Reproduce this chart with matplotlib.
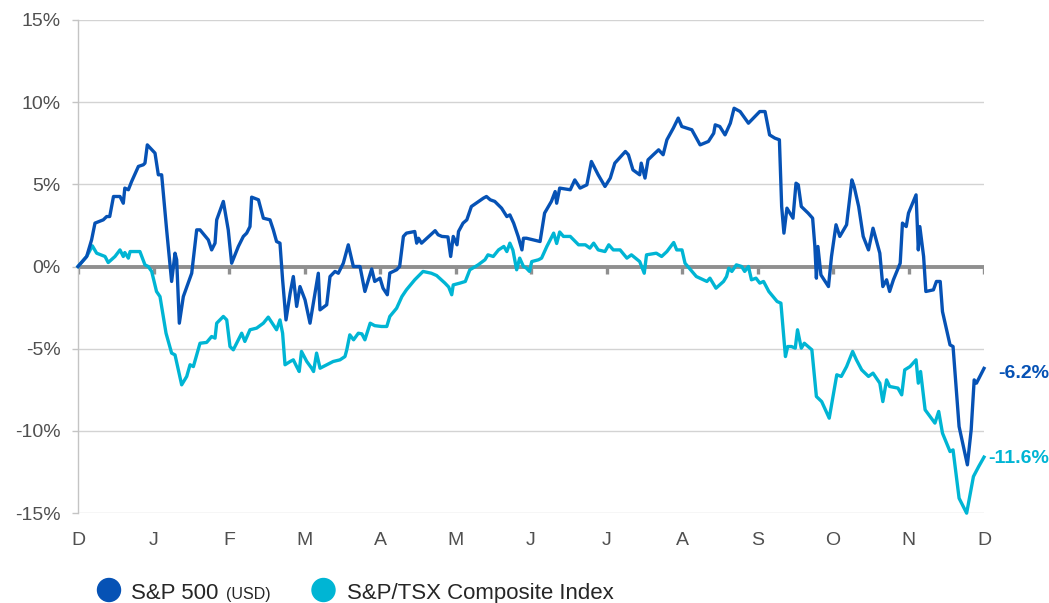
import matplotlib
matplotlib.use("Agg")
import matplotlib.pyplot as plt

# x = months elapsed since start of Dec, y = cumulative return (%)
spx_month = [
    0.00, 0.115, 0.18, 0.225, 0.335, 0.38, 0.42, 0.47, 0.556, 0.60, 0.62, 0.667, 0.71, 0.80,
    0.865, 0.887, 0.918, 1.02, 1.064, 1.108, 1.174, 1.24, 1.285, 1.307, 1.342, 1.395, 1.506,
    1.572, 1.616, 1.726, 1.77, 1.815, 1.837, 1.925, 1.99, 2.035, 2.124, 2.19, 2.234, 2.278,
    2.30, 2.39, 2.455, 2.543, 2.587, 2.63, 2.675, 2.71, 2.755, 2.81, 2.852, 2.896, 2.94,
    3.007, 3.073, 3.14, 3.183, 3.205, 3.294, 3.338, 3.404, 3.448, 3.514, 3.58, 3.647, 3.735,
    3.80, 3.89, 3.93, 4.00, 4.04, 4.097, 4.13, 4.22, 4.26, 4.31, 4.35, 4.46, 4.486, 4.51,
    4.55, 4.73, 4.77, 4.82, 4.90, 4.936, 4.97, 5.02, 5.04, 5.10, 5.15, 5.21, 5.37, 5.41,
    5.46, 5.52, 5.61, 5.68, 5.72, 5.77, 5.83, 5.88, 5.90, 5.94, 6.12, 6.18, 6.27, 6.32,
    6.34, 6.38, 6.52, 6.58, 6.65, 6.74, 6.80, 6.89, 6.98, 7.05, 7.11, 7.25, 7.29, 7.35,
    7.44, 7.46, 7.51, 7.55, 7.62, 7.69, 7.75, 7.80, 7.885, 7.95, 7.997, 8.13, 8.24, 8.35,
    8.42, 8.44, 8.50, 8.57, 8.64, 8.69, 8.77, 8.88, 8.945, 9.03, 9.10, 9.16, 9.23, 9.29,
    9.32, 9.35, 9.39, 9.47, 9.51, 9.54, 9.58, 9.67, 9.73, 9.76, 9.78, 9.80, 9.84, 9.94,
    9.98, 10.04, 10.09, 10.18, 10.25, 10.28, 10.34, 10.40, 10.47, 10.53, 10.62, 10.66,
    10.71, 10.75, 10.80, 10.89, 10.92, 10.97, 11.00, 11.10, 11.13, 11.15, 11.20, 11.23,
    11.33, 11.37, 11.42, 11.45, 11.55, 11.59, 11.67, 11.78, 11.83, 11.87, 11.90, 12.00,
]
spx_pct = [
    0.00, 0.61, 1.62, 2.64, 2.84, 3.04, 3.04, 4.26, 4.26, 3.85, 4.77, 4.67, 5.17, 6.09,
    6.19, 6.29, 7.40, 6.90, 5.58, 5.58, 2.23, -0.91, 0.81, 0.41, -3.45, -1.83, -0.41,
    2.23, 2.23, 1.62, 1.01, 1.42, 2.84, 3.96, 2.23, 0.20, 1.22, 1.83, 2.03, 2.43,
    4.22, 4.06, 2.94, 2.84, 2.23, 1.52, 1.42, -0.81, -3.25, -1.62, -0.61, -2.43, -1.22,
    -2.03, -3.45, -1.62, -0.41, -2.64, -2.33, -0.61, -0.30, -0.41, 0.20, 1.32, 0.00, 0.00,
    -1.52, -0.15, -0.91, -0.71, -1.32, -1.72, -0.40, -0.20, 0.00, 1.83, 2.03, 2.13, 1.42, 1.72,
    1.42, 2.18, 1.93, 1.83, 1.80, 0.61, 1.83, 1.32, 2.13, 2.64, 2.84, 3.65, 4.16, 4.26,
    4.06, 3.96, 3.55, 3.04, 3.14, 2.64, 1.83, 1.01, 1.72, 1.72, 1.52, 3.25, 3.96, 4.56,
    3.85, 4.77, 4.67, 5.27, 4.77, 4.97, 6.39, 5.58, 4.87, 5.38, 6.29, 7.00, 6.80, 5.88,
    5.58, 6.29, 5.38, 6.49, 6.80, 7.10, 6.80, 7.71, 8.42, 9.03, 8.52, 8.32, 7.40, 7.61,
    8.11, 8.62, 8.52, 8.01, 8.72, 9.63, 9.43, 8.72, 9.03, 9.43, 9.43, 8.01, 7.81, 7.71,
    3.65, 2.03, 3.55, 2.94, 5.07, 4.97, 3.65, 3.25, 2.94, 1.22, -0.71, 1.22, -0.51, -1.22,
    0.61, 2.54, 1.83, 2.54, 5.27, 4.87, 3.65, 1.83, 1.01, 2.33, 0.81, -1.22,
    -0.81, -1.52, -0.81, 0.20, 2.64, 2.43, 3.25, 4.36, 1.01, 2.43, 0.61, -1.52,
    -1.42, -0.91, -0.91, -2.74, -4.77, -4.87, -9.74, -12.07, -9.94, -6.90, -7.10, -6.20,
]

tsx_month = [
    0.00, 0.115, 0.19, 0.247, 0.358, 0.40, 0.49, 0.556, 0.60, 0.62, 0.667, 0.69, 0.82,
    0.887, 0.93, 0.976, 1.04, 1.086, 1.166, 1.24, 1.285, 1.373, 1.44, 1.484, 1.528, 1.616,
    1.704, 1.77, 1.815, 1.837, 1.925, 1.97, 2.013, 2.057, 2.168, 2.21, 2.278, 2.366, 2.455,
    2.52, 2.587, 2.63, 2.675, 2.71, 2.742, 2.81, 2.852, 2.896, 2.93, 2.96, 3.03, 3.095,
    3.12, 3.16, 3.206, 3.294, 3.38, 3.47, 3.536, 3.56, 3.60, 3.65, 3.713, 3.76, 3.80, 3.87,
    3.93, 4.02, 4.09, 4.13, 4.22, 4.29, 4.35, 4.46, 4.57, 4.68, 4.75, 4.86, 4.91, 4.95,
    4.97, 5.06, 5.13, 5.19, 5.30, 5.39, 5.43, 5.50, 5.57, 5.64, 5.68, 5.72, 5.76, 5.81,
    5.85, 5.90, 5.94, 5.98, 6.01, 6.10, 6.14, 6.21, 6.30, 6.34, 6.38, 6.43, 6.52, 6.63,
    6.72, 6.78, 6.83, 6.89, 6.98, 7.03, 7.09, 7.18, 7.27, 7.33, 7.44, 7.50, 7.53, 7.66,
    7.73, 7.80, 7.89, 7.93, 8.00, 8.04, 8.19, 8.33, 8.37, 8.45, 8.55, 8.59, 8.62, 8.66,
    8.72, 8.79, 8.83, 8.88, 8.92, 8.98, 9.03, 9.08, 9.15, 9.26, 9.31, 9.37, 9.40, 9.45,
    9.50, 9.53, 9.58, 9.62, 9.72, 9.78, 9.85, 9.95, 10.05, 10.11, 10.18, 10.26, 10.31,
    10.38, 10.47, 10.53, 10.62, 10.66, 10.71, 10.75, 10.86, 10.91, 10.95, 11.02, 11.10,
    11.13, 11.16, 11.22, 11.35, 11.40, 11.45, 11.55, 11.59, 11.67, 11.77, 11.86, 11.93,
    12.00,
]
tsx_pct = [
    0.00, 0.61, 1.26, 0.81, 0.61, 0.24, 0.61, 1.01, 0.61, 0.85, 0.51, 0.91, 0.91,
    0.10, 0.00, -0.30, -1.52, -1.83, -4.06, -5.27, -5.38, -7.20, -6.69, -5.98, -6.09, -4.67,
    -4.62, -4.26, -4.36, -3.45, -3.04, -3.25, -4.87, -5.07, -4.06, -4.56, -3.85, -3.75, -3.45,
    -3.08, -3.55, -3.85, -3.25, -4.06, -5.98, -5.78, -5.68, -6.09, -6.39, -5.17, -5.78, -6.19,
    -6.39, -5.27, -6.19, -5.98, -5.78, -5.68, -5.48, -5.07, -4.16, -4.46, -4.06, -4.10, -4.46, -3.45,
    -3.60, -3.65, -3.65, -3.04, -2.54, -1.83, -1.42, -0.81, -0.30, -0.41, -0.55, -1.01, -1.25, -1.72,
    -1.12, -1.01, -0.91, -0.20, 0.10, 0.41, 0.71, 0.61, 1.01, 1.22, 0.91, 1.42, 1.00, -0.20,
    0.51, 0.00, -0.10, -0.30, 0.30, 0.41, 0.51, 1.22, 2.03, 1.40, 2.10, 1.83, 1.83, 1.32,
    1.32, 1.12, 1.42, 1.01, 0.91, 1.32, 1.01, 1.01, 0.51, 0.71, 0.30, -0.41, 0.71, 0.81,
    0.61, 0.91, 1.46, 1.01, 1.01, 0.20, -0.61, -0.91, -0.71, -1.32, -0.91, -0.61, -0.10, -0.30,
    0.10, 0.00, -0.30, 0.00, -0.81, -0.71, -1.01, -0.91, -1.52, -2.13, -2.23, -5.48, -4.87, -4.87,
    -4.97, -3.85, -4.97, -4.67, -5.07, -7.91, -8.22, -9.23, -6.59, -6.69, -6.09, -5.17, -5.68,
    -6.29, -6.69, -6.49, -7.10, -8.22, -6.90, -7.30, -7.40, -7.81, -6.29, -6.09, -5.68,
    -7.10, -6.39, -8.72, -9.53, -8.82, -10.14, -11.26, -11.16, -14.10, -15.01, -12.78, -12.17,
    -11.60,
]

month_labels = ["D", "J", "F", "M", "A", "M", "J", "J", "A", "S", "O", "N", "D"]
y_ticks = [-15, -10, -5, 0, 5, 10, 15]
spx_final = "-6.2%"
tsx_final = "-11.6%"

C_SPX = "#0652b5"
C_TSX = "#00b5d4"
C_ZERO = "#8f8f8f"
C_GRID = "#d3d3d3"
C_TEXT = "#505050"

plt.rcParams["font.family"] = ["Liberation Sans", "DejaVu Sans"]

fig = plt.figure(figsize=(10.49, 6.03), dpi=100)
ax = fig.add_axes([78 / 1049, 1 - 513 / 603, (984 - 78) / 1049, (513 - 20) / 603])

ax.set_xlim(0, 12)
ax.set_ylim(-15, 15)
ax.set_yticks(y_ticks)
ax.set_yticklabels([f"{t}%" for t in y_ticks])
ax.set_xticks(range(len(month_labels)))
ax.set_xticklabels(month_labels)

for s in ["top", "right", "bottom"]:
    ax.spines[s].set_visible(False)
ax.spines["left"].set_color("#c4c4c4")
ax.spines["left"].set_linewidth(1.0)

ax.tick_params(axis="y", length=4.5, width=1, color="#c4c4c4", pad=8,
               labelsize=14, labelcolor=C_TEXT)
ax.tick_params(axis="x", length=0, pad=14, labelsize=14, labelcolor=C_TEXT)

for t in y_ticks:
    if t != 0:
        ax.axhline(t, color=C_GRID, lw=1.0, zorder=1)

# zero line with small month ticks hanging below it
ax.axhline(0, color=C_ZERO, lw=2.8, zorder=2)
ax.vlines(range(len(month_labels)), -0.45, 0, color=C_ZERO, lw=2.4, zorder=2)

ax.plot(tsx_month, tsx_pct, color=C_TSX, lw=2.4, solid_joinstyle="round", zorder=3, clip_on=False)
ax.plot(spx_month, spx_pct, color=C_SPX, lw=2.4, solid_joinstyle="round", zorder=4, clip_on=False)

ax.annotate(spx_final, (spx_month[-1], spx_pct[-1]), xytext=(10, -4), textcoords="offset points",
            ha="left", va="center", fontsize=14, fontweight="bold", color=C_SPX, annotation_clip=False)
ax.annotate(tsx_final, (tsx_month[-1], tsx_pct[-1]), xytext=(3, -1), textcoords="offset points",
            ha="left", va="center", fontsize=14, fontweight="bold", color=C_TSX, annotation_clip=False)

# legend drawn by hand: dot, label, smaller unit note
ly = 1 - 590 / 603
fig.patches.append(matplotlib.patches.Ellipse((109 / 1049, ly), 23 / 1049, 23 / 603,
                                              transform=fig.transFigure, color=C_SPX))
fig.patches.append(matplotlib.patches.Ellipse((323.5 / 1049, ly), 23 / 1049, 23 / 603,
                                              transform=fig.transFigure, color=C_TSX))
fig.text(131 / 1049, 1 - 599 / 603, "S&P 500", fontsize=16, color="#262626",
         va="baseline", ha="left")
fig.text(226 / 1049, 1 - 599 / 603, "(USD)", fontsize=11.5, color="#262626",
         va="baseline", ha="left")
fig.text(347 / 1049, 1 - 599 / 603, "S&P/TSX Composite Index", fontsize=16, color="#262626",
         va="baseline", ha="left")

fig.savefig("out.png", dpi=100)
